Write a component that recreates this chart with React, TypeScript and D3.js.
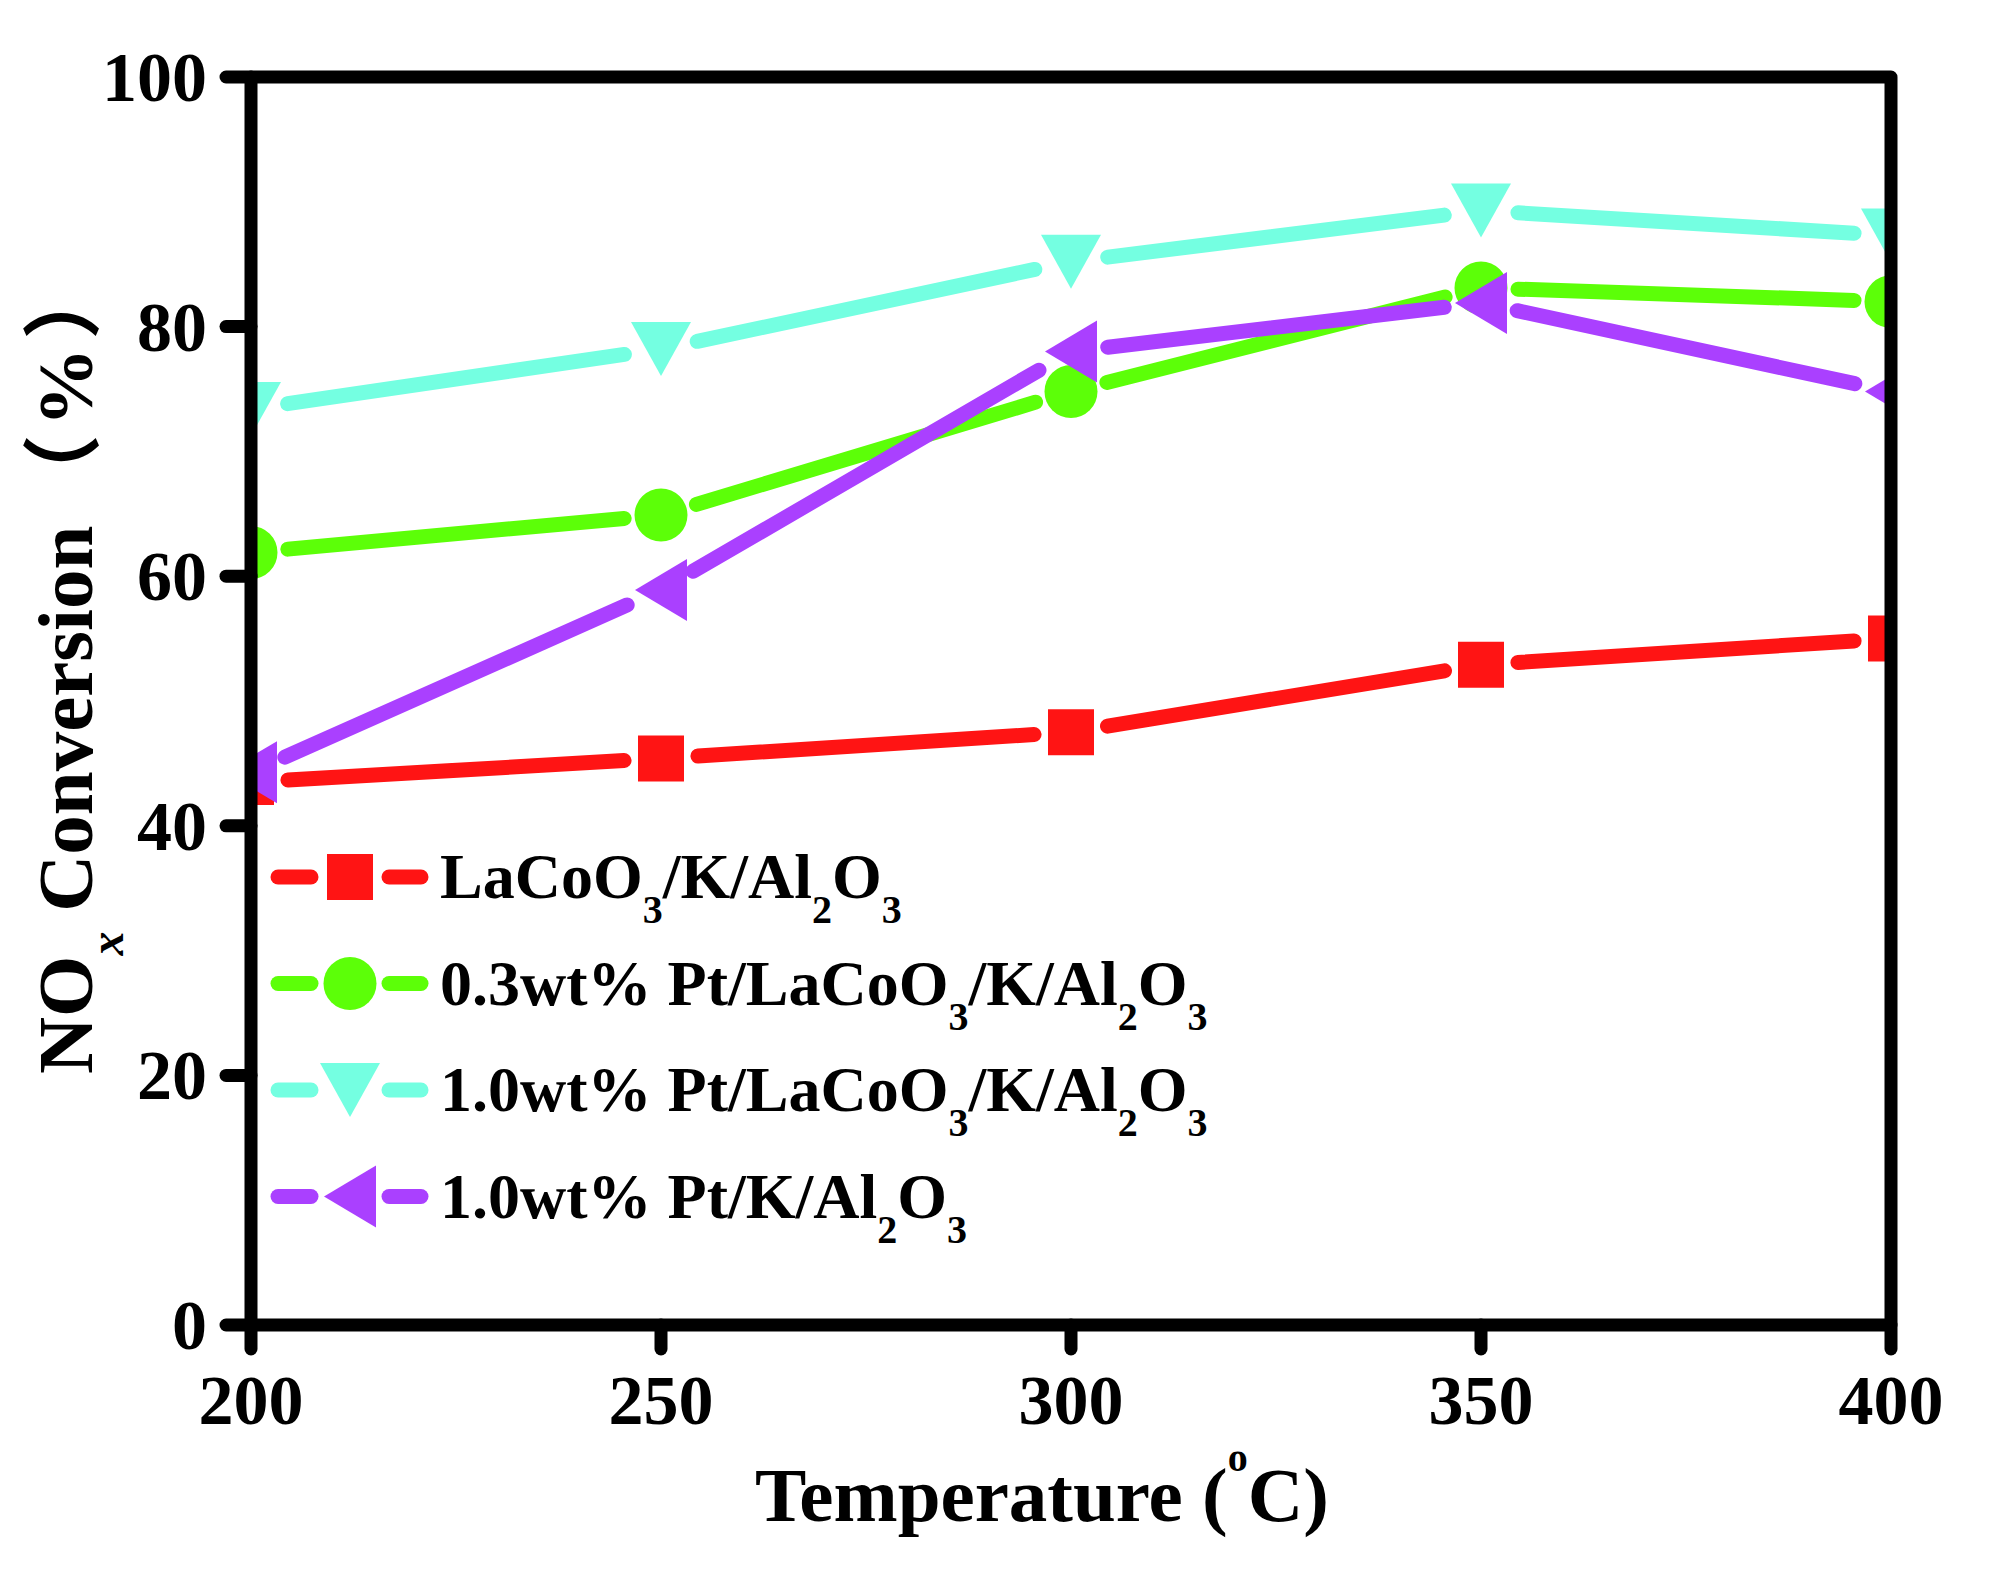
import React from "react";
import * as d3 from "d3";

const temperatures = [200, 250, 300, 350, 400];
const lacooValues = [43.5, 45.4, 47.5, 52.9, 55.0];
const pt03Values = [61.9, 64.9, 74.8, 83.1, 82.0];
const pt10LacooValues = [73.4, 78.2, 85.2, 89.3, 87.3];
const pt10Values = [44.3, 58.9, 78.0, 81.9, 74.8];

const seriesNames = [
  "LaCoO_3/K/Al_2O_3",
  "0.3wt% Pt/LaCoO_3/K/Al_2O_3",
  "1.0wt% Pt/LaCoO_3/K/Al_2O_3",
  "1.0wt% Pt/K/Al_2O_3",
];
const seriesValues = [lacooValues, pt03Values, pt10LacooValues, pt10Values];
const seriesColors = ["#ff1414", "#5cff08", "#74ffe1", "#aa40ff"];
const seriesMarkers = ["square", "circle", "triangleDown", "triangleLeft"];

const xTicks = [200, 250, 300, 350, 400];
const yTicks = [0, 20, 40, 60, 80, 100];

const W = 1990;
const H = 1572;
const left = 251;
const right = 1891;
const top = 77;
const bottom = 1325;
const FONT = "'Liberation Serif', 'Times New Roman', 'Noto Sans CJK SC', serif";

function markerPath(type: string, cx: number, cy: number): string {
  const p = d3.path();
  if (type === "square") {
    const s = 23;
    p.rect(cx - s, cy - s, 2 * s, 2 * s);
  } else if (type === "circle") {
    p.moveTo(cx + 26.5, cy);
    p.arc(cx, cy, 26.5, 0, Math.PI * 2);
  } else if (type === "triangleDown") {
    p.moveTo(cx - 30, cy - 27);
    p.lineTo(cx + 30, cy - 27);
    p.lineTo(cx, cy + 27);
    p.closePath();
  } else {
    p.moveTo(cx + 26, cy - 31);
    p.lineTo(cx + 26, cy + 31);
    p.lineTo(cx - 26, cy);
    p.closePath();
  }
  return p.toString();
}

function parseLabel(label: string) {
  const parts: { text: string; sub: boolean }[] = [];
  const re = /_(\d)/g;
  let last = 0;
  let m: RegExpExecArray | null;
  while ((m = re.exec(label)) !== null) {
    if (m.index > last) parts.push({ text: label.slice(last, m.index), sub: false });
    parts.push({ text: m[1], sub: true });
    last = m.index + m[0].length;
  }
  if (last < label.length) parts.push({ text: label.slice(last), sub: false });
  return parts;
}

export default function App() {
  const x = d3.scaleLinear().domain([200, 400]).range([left, right]);
  const y = d3.scaleLinear().domain([0, 100]).range([bottom, top]);
  const lineGen = d3.line<[number, number]>();
  const GAP = 37;
  const LW = 15;

  const segments = (vals: number[]) => {
    const out: string[] = [];
    for (let i = 0; i < vals.length - 1; i++) {
      const x0 = x(temperatures[i]);
      const y0 = y(vals[i]);
      const x1 = x(temperatures[i + 1]);
      const y1 = y(vals[i + 1]);
      const d = Math.hypot(x1 - x0, y1 - y0);
      const ux = (x1 - x0) / d;
      const uy = (y1 - y0) / d;
      out.push(
        lineGen([
          [x0 + ux * GAP, y0 + uy * GAP],
          [x1 - ux * GAP, y1 - uy * GAP],
        ]) as string
      );
    }
    return out;
  };

  const legendY = (i: number) => 877 + i * 106.5;

  return (
    <div style={{ position: "absolute", left: 0, top: 0 }}>
      <svg width={W} height={H} viewBox={`0 0 ${W} ${H}`} style={{ display: "block", background: "#fff" }}>
        <defs>
          <clipPath id="plotClip">
            <rect x={left} y={top} width={right - left} height={bottom - top} />
          </clipPath>
        </defs>
        <rect x={0} y={0} width={W} height={H} fill="#fff" />

        <g clipPath="url(#plotClip)">
          {seriesValues.map((vals, si) => (
            <g key={si}>
              {segments(vals).map((d, k) => (
                <path key={k} d={d} stroke={seriesColors[si]} strokeWidth={LW} strokeLinecap="round" fill="none" />
              ))}
              {vals.map((v, k) => (
                <path key={"m" + k} d={markerPath(seriesMarkers[si], x(temperatures[k]), y(v))} fill={seriesColors[si]} />
              ))}
            </g>
          ))}
        </g>

        {/* frame */}
        <rect x={left} y={top} width={right - left} height={bottom - top} fill="none" stroke="#000" strokeWidth={13} strokeLinejoin="round" />

        {/* y ticks */}
        {yTicks.map((t) => (
          <g key={"y" + t}>
            <line x1={left} x2={226} y1={y(t)} y2={y(t)} stroke="#000" strokeWidth={13} strokeLinecap="round" />
            <text x={207} y={y(t) + 24} textAnchor="end" fontFamily={FONT} fontWeight="bold" fontSize={70} fill="#000">
              {t}
            </text>
          </g>
        ))}

        {/* x ticks */}
        {xTicks.map((t) => (
          <g key={"x" + t}>
            <line x1={x(t)} x2={x(t)} y1={bottom} y2={1349} stroke="#000" strokeWidth={13} strokeLinecap="round" />
            <text x={x(t)} y={1424} textAnchor="middle" fontFamily={FONT} fontWeight="bold" fontSize={70} fill="#000">
              {t}
            </text>
          </g>
        ))}

        {/* x title */}
        <text x={1042} y={1521} textAnchor="middle" fontFamily={FONT} fontWeight="bold" fontSize={77} fill="#000">
          <tspan>Temperature (</tspan>
          <tspan fontSize={40} dy={-50}>o</tspan>
          <tspan dy={50}>C)</tspan>
        </text>

        {/* y title */}
        <text transform="translate(92,1074) rotate(-90)" textAnchor="start" fontFamily={FONT} fontWeight="bold" fontSize={79} fill="#000">
          <tspan>NO</tspan>
          <tspan fontSize={48} fontStyle="italic" dy={31}>x</tspan>
          <tspan dy={-31}>{" Conversion"}</tspan>
          <tspan dx={12}>{"\uFF08"}</tspan>
          <tspan dx={8}>%</tspan>
          <tspan dx={8}>{"\uFF09"}</tspan>
        </text>

        {/* legend */}
        {seriesNames.map((name, i) => {
          const cy = legendY(i);
          return (
            <g key={"lg" + i}>
              <line x1={278} x2={311} y1={cy} y2={cy} stroke={seriesColors[i]} strokeWidth={LW} strokeLinecap="round" />
              <line x1={389} x2={421} y1={cy} y2={cy} stroke={seriesColors[i]} strokeWidth={LW} strokeLinecap="round" />
              <path d={markerPath(seriesMarkers[i], 350, cy)} fill={seriesColors[i]} />
              <text x={440} y={cy + 21} fontFamily={FONT} fontWeight="bold" fontSize={64} fill="#000">
                {parseLabel(name).map((p, k, arr) => {
                  const prevSub = k > 0 && arr[k - 1].sub;
                  const dy = p.sub ? 25 : prevSub ? -25 : 0;
                  return (
                    <tspan key={k} fontSize={p.sub ? 40 : 64} dy={dy}>
                      {p.text}
                    </tspan>
                  );
                })}
              </text>
            </g>
          );
        })}
      </svg>
    </div>
  );
}
